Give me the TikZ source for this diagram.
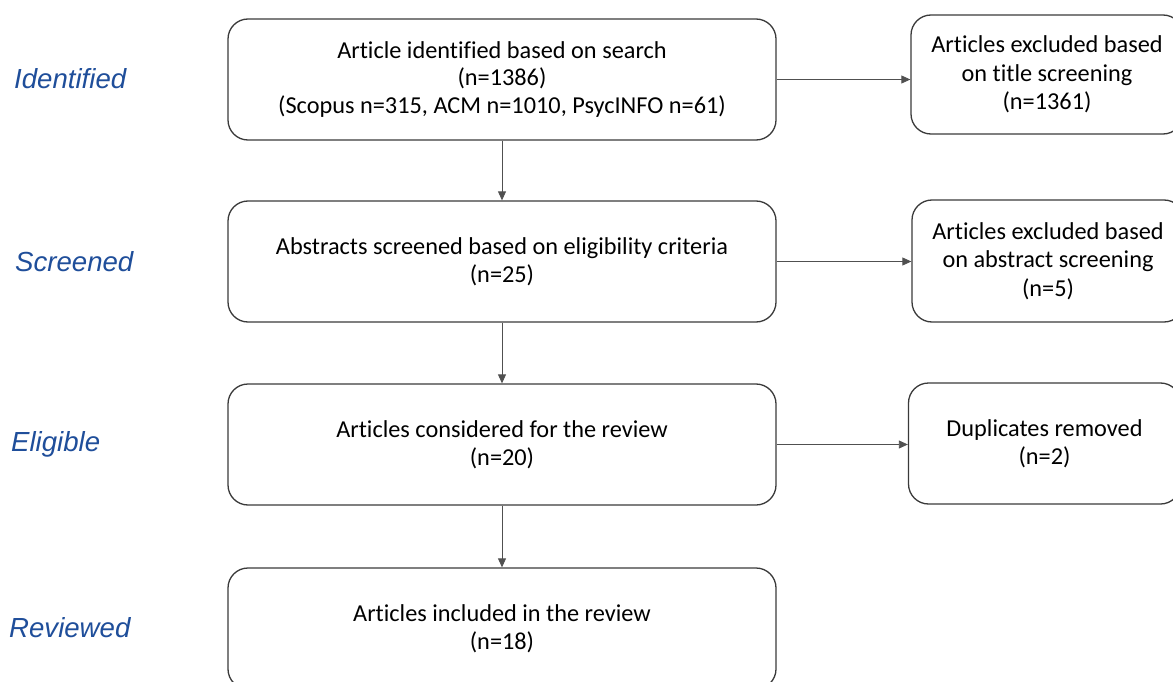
\documentclass[tikz,border=0pt]{standalone}
\usepackage{fontspec}
\setmainfont{Carlito}[Ligatures={NoCommon}]
\newfontfamily\labelfont{Liberation Sans}
\usetikzlibrary{arrows.meta}
\definecolor{labelblue}{HTML}{1F4E9A}
\definecolor{boxline}{HTML}{3A3A3A}
\definecolor{arrline}{HTML}{505050}
\tikzset{
  mainbox/.style={draw=boxline, line width=1.3pt, rounded corners=20pt, minimum width=548pt, minimum height=121pt, align=center, inner sep=0pt, font=\fontsize{24.3}{27.7}\selectfont},
  sidebox/.style={draw=boxline, line width=1.3pt, rounded corners=20pt, minimum width=272pt, minimum height=121pt, align=center, inner sep=0pt, font=\fontsize{24.3}{28.5}\selectfont},
  stagelabel/.style={anchor=west, inner sep=0pt, text=labelblue, font=\labelfont\itshape\fontsize{27.6}{32}\selectfont},
  conn/.style={draw=arrline, line width=0.8pt, -{Triangle[length=9pt,width=8pt]}}
}
\begin{document}
\begin{tikzpicture}[x=1pt,y=-1pt]
\useasboundingbox (0,0) rectangle (1173,682);
\clip (0,0) rectangle (1173,682);
\node[mainbox] (a) at (502,79.5) {Article identified based on search\\(n=1386)\\(Scopus n=315, ACM n=1010, PsycINFO n=61)};
\node[mainbox] (b) at (502,261.5) {Abstracts screened based on eligibility criteria\\(n=25)};
\node[mainbox] (c) at (502,444.5) {Articles considered for the review\\(n=20)};
\node[mainbox] (d) at (502,628.5) {Articles included in the review\\(n=18)};
\node[sidebox, minimum height=119pt] (ra) at (1047,74.5) {Articles excluded based\\on title screening\\(n=1361)};
\node[sidebox, minimum height=122pt] (rb) at (1048,261) {Articles excluded based\\on abstract screening\\(n=5)};
\node[sidebox] (rc) at (1044.5,443.5) {Duplicates removed\\(n=2)};
\node[stagelabel] (la) at (14,79) {Identified};
\node[stagelabel] (lb) at (15,262) {Screened};
\node[stagelabel] (lc) at (11,444) {Eligible};
\node[stagelabel] (ld) at (9,628) {Reviewed};
\draw[conn] (a.south) -- (b.north);
\draw[conn] (b.south) -- (c.north);
\draw[conn] (c.south) -- (d.north);
\draw[conn] (a.east) -- (a.east -| ra.west);
\draw[conn] (b.east) -- (b.east -| rb.west);
\draw[conn] (c.east) -- (c.east -| rc.west);
\end{tikzpicture}
\end{document}
